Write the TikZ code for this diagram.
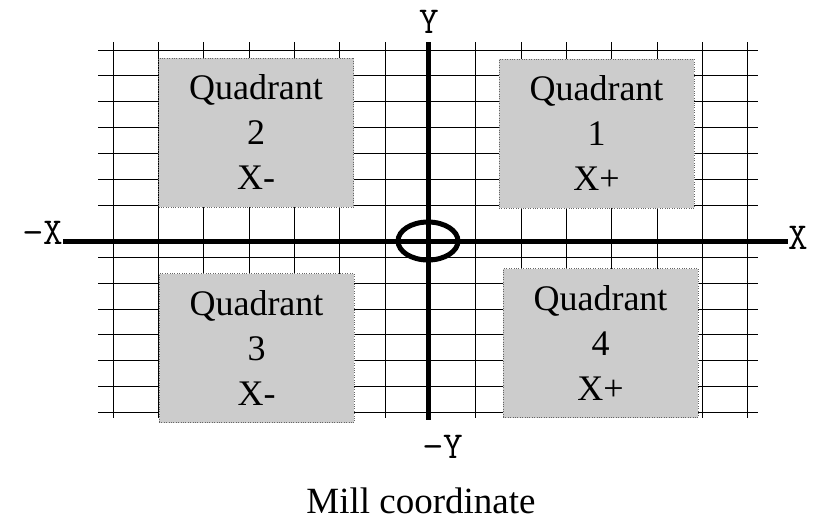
\documentclass[tikz,border=0pt]{standalone}
\usepackage{fontspec}
\setmainfont{Liberation Serif}
\usepackage{tikz}
\usetikzlibrary{positioning}

\begin{document}
\begin{tikzpicture}[
    x=1pt, y=-1pt,
    gridline/.style={line width=1pt, black},
    axisline/.style={line width=5pt, black},
    quad/.style={draw=black!60, dotted, fill=black!20, minimum width=195pt, minimum height=149pt,
                 align=center, inner sep=0pt, font=\fontsize{36}{45}\selectfont},
    axlabel/.style={inner sep=0pt, font=\ttfamily\fontsize{38}{38}\selectfont}
]
\useasboundingbox (0,0) rectangle (813,522);
% grid
\foreach \k in {0,...,6,8,9,...,14}
   \draw[gridline] ({113+45.35*\k},42) -- ({113+45.35*\k},418);
\foreach \k in {0,...,6,8,9,...,14}
   \draw[gridline] (98,{50+25.9*\k}) -- (758,{50+25.9*\k});
% quadrant boxes
\node[quad] (q2) at (256,132.5) {Quadrant\\2\\X-};
\node[quad] (q1) at (596.5,133.5) {Quadrant\\1\\X+};
\node[quad] (q3) at (256.5,348) {Quadrant\\3\\X-};
\node[quad] (q4) at (600.5,343) {Quadrant\\4\\X+};
% axes
\node[axlabel, anchor=base east] (mx) at (63,244) {−X};
\node[axlabel, anchor=base west] (px) at (788,249) {X};
\node[axlabel, anchor=base] (py) at (429,33) {Y};
\node[axlabel, anchor=base] (my) at (443,458) {−Y};
\coordinate (top) at (428,42);
\coordinate (bot) at (428,420);
\coordinate (origin) at (428,241);
\draw[axisline] (mx.east |- origin) -- (px.west |- origin);
\draw[axisline] (top) -- (bot);
\draw[axisline] (origin) ellipse [x radius=30pt, y radius=19pt];
\node[anchor=base, font=\fontsize{37}{37}\selectfont] (caption) at (421,513) {Mill coordinate};
\end{tikzpicture}
\end{document}
